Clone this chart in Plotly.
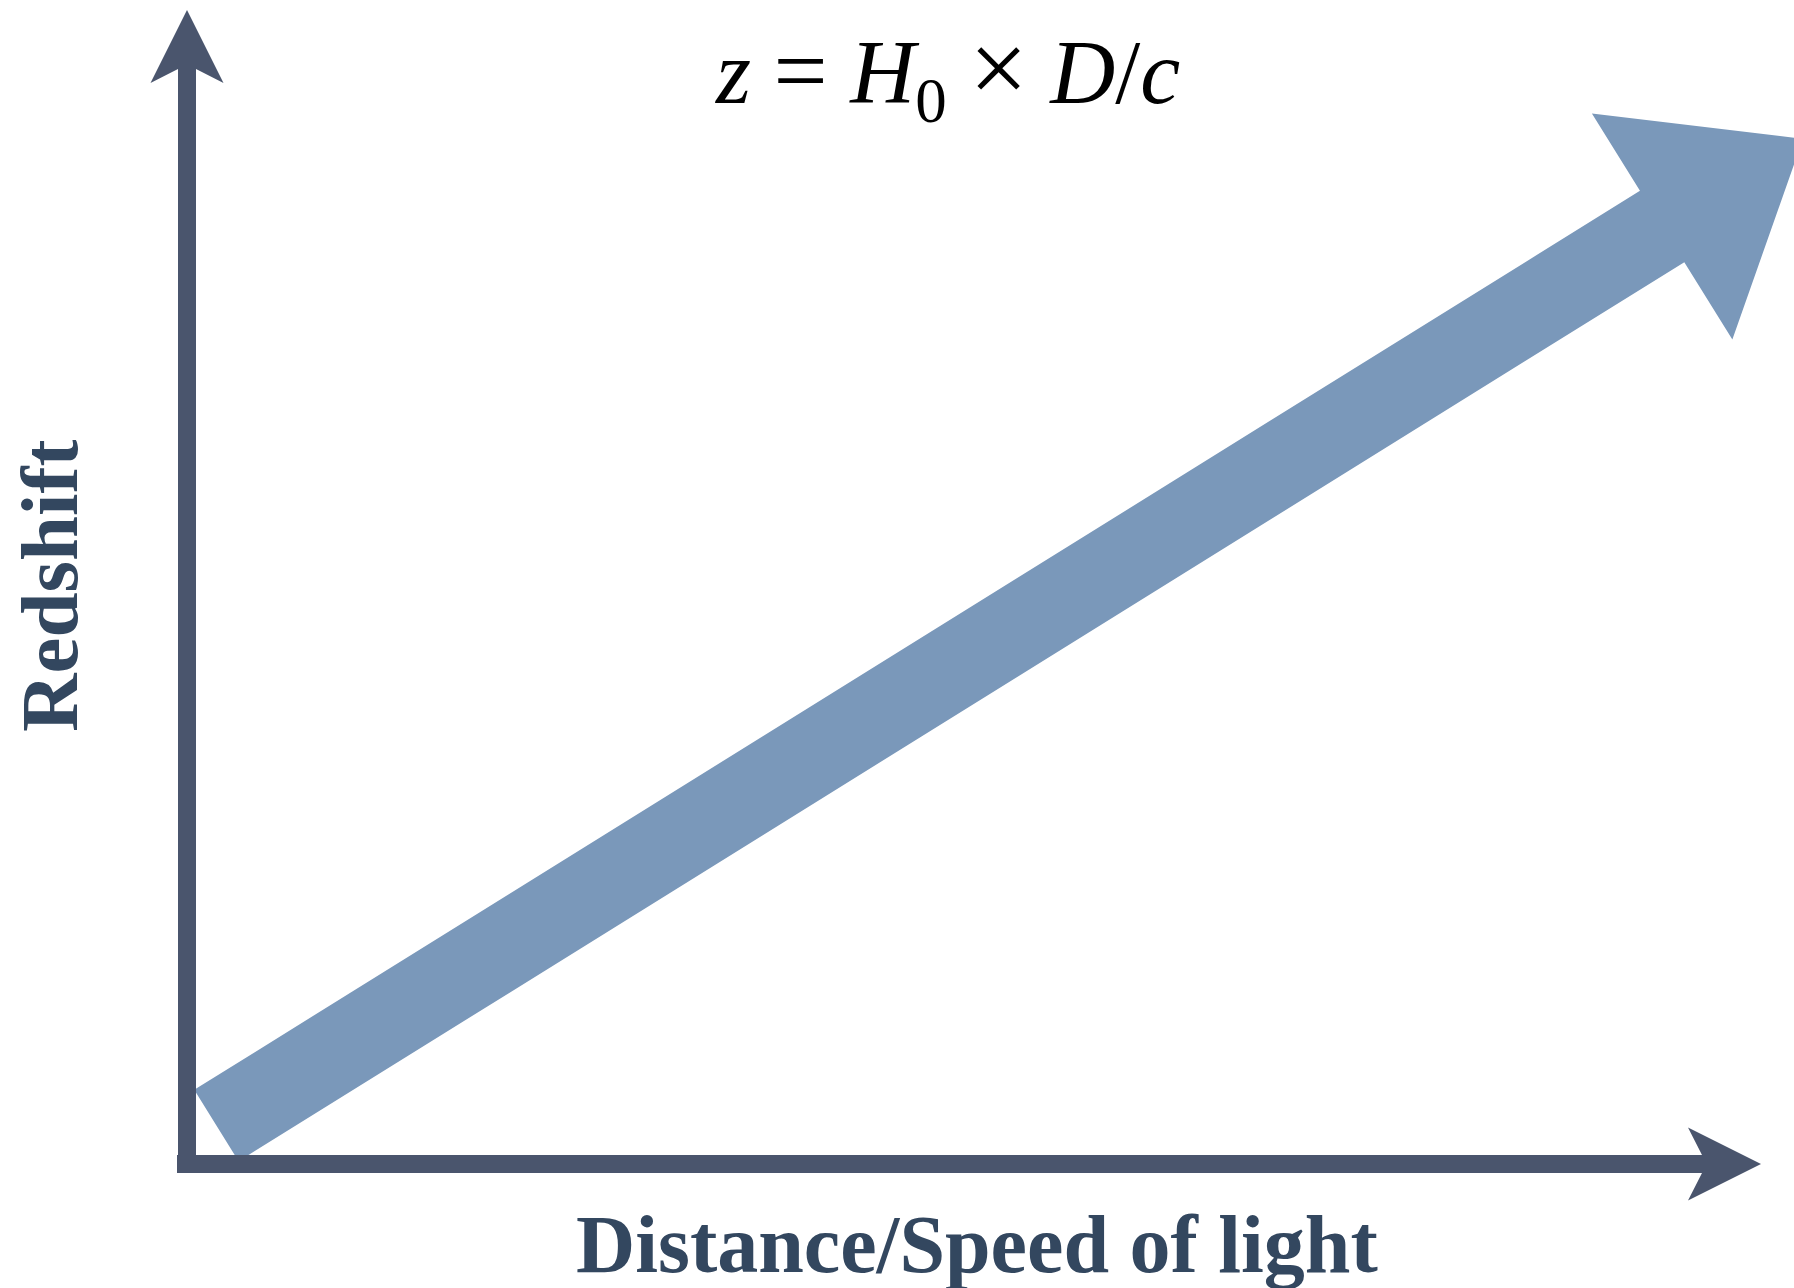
import numpy as np
import plotly.graph_objects as go

# Frame: one unit per pixel, origin at the corner of the two axes, y pointing up
x_range = [-187, 1607]
y_range = [-124, 1164]

# Axis arrows: start, end, shaft width, head length, head width, junction depth
x_axis_start = [-10, 0]
x_axis_end = [1574, 0]
y_axis_start = [0, -9]
y_axis_end = [0, 1154]
axis_shaft_width = 18
axis_head_length = 73
axis_head_width = 73
axis_head_notch = 14

# Trend arrow: z grows linearly with D/c
trend_start = [29.4, 38.5]
trend_end = [1616.1, 1025.2]
trend_shaft_width = 84
trend_head_length = 166
trend_head_width = 266

axis_color = "#4A556D"
trend_color = "#7A98BA"
label_color = "#33475F"

x_label = "Distance/Speed of light"
y_label = "Redshift"
formula = ("<i>z</i> <span style='font-size:96px'>=</span> <i>H</i><sub>0</sub> "
           "<span style='font-size:104px'>×</span> <i>D</i>/<i>c</i>")


def arrow_polygon(start, end, shaft_w, head_len, head_w, notch=0.0):
    p0 = np.array(start, float)
    p1 = np.array(end, float)
    u = (p1 - p0) / np.linalg.norm(p1 - p0)
    n = np.array([-u[1], u[0]])
    base = p1 - u * head_len
    joint = base + u * notch
    pts = [
        p0 + n * shaft_w / 2,
        joint + n * shaft_w / 2,
        base + n * head_w / 2,
        p1,
        base - n * head_w / 2,
        joint - n * shaft_w / 2,
        p0 - n * shaft_w / 2,
        p0 + n * shaft_w / 2,
    ]
    pts = np.array(pts)
    return pts[:, 0], pts[:, 1]


fig = go.Figure()

for start, end, w, hl, hw, nt, col in [
    (trend_start, trend_end, trend_shaft_width, trend_head_length, trend_head_width, 0, trend_color),
    (y_axis_start, y_axis_end, axis_shaft_width, axis_head_length, axis_head_width, axis_head_notch, axis_color),
    (x_axis_start, x_axis_end, axis_shaft_width, axis_head_length, axis_head_width, axis_head_notch, axis_color),
]:
    xs, ys = arrow_polygon(start, end, w, hl, hw, nt)
    fig.add_trace(go.Scatter(
        x=xs, y=ys, mode="lines", fill="toself",
        fillcolor=col, line=dict(width=0, color=col),
        hoverinfo="skip", showlegend=False,
    ))

fig.add_annotation(
    x=790, y=-80, xref="x", yref="y", text=f"<b>{x_label}</b>",
    showarrow=False, xanchor="center", yanchor="middle",
    font=dict(family="Liberation Serif", size=82, color=label_color),
)
fig.add_annotation(
    x=-137, y=578, xref="x", yref="y", text=f"<b>{y_label}</b>",
    showarrow=False, textangle=-90, xanchor="center", yanchor="middle",
    font=dict(family="Liberation Serif", size=81, color=label_color),
)
fig.add_annotation(
    x=760, y=1091, xref="x", yref="y", text=formula,
    showarrow=False, xanchor="center", yanchor="middle",
    font=dict(family="Liberation Serif", size=90, color="#000000"),
)

fig.update_layout(
    width=1794, height=1288,
    margin=dict(l=0, r=0, t=0, b=0),
    paper_bgcolor="white", plot_bgcolor="white",
    xaxis=dict(range=x_range, visible=False, fixedrange=True),
    yaxis=dict(range=y_range, visible=False, fixedrange=True),
)

fig.write_html("out.html")
